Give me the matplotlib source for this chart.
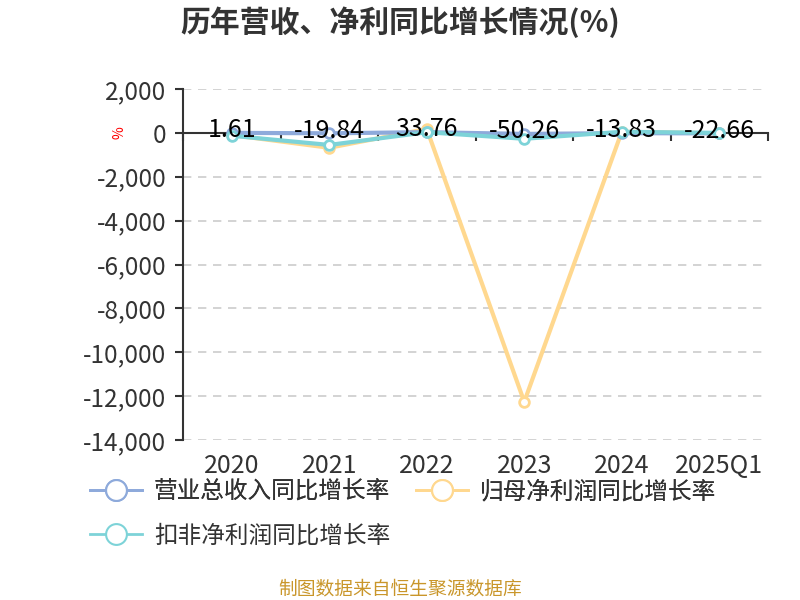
import matplotlib
matplotlib.use("Agg")
import matplotlib.pyplot as plt
from matplotlib.ticker import FuncFormatter, FixedLocator
from matplotlib.lines import Line2D

plt.rcParams['font.family'] = ['Noto Sans CJK SC', 'DejaVu Sans']

categories = ["2020", "2021", "2022", "2023", "2024", "2025Q1"]
revenue_growth = [1.61, -19.84, 33.76, -50.26, -13.83, -22.66]
net_profit_growth = [-100, -680, 180, -12260, 50, -20]
deducted_profit_growth = [-130, -550, 30, -270, 50, 0]
series_names = ["营业总收入同比增长率", "归母净利润同比增长率", "扣非净利润同比增长率"]
colors = ["#8EAADB", "#FFD88F", "#7DD3D8"]

fig = plt.figure(figsize=(8, 6), dpi=100)
ax = fig.add_axes([183/800, 1-440/600, (768-183)/800, (440-89)/600])

x = list(range(len(categories)))
for vals, c, z in [(revenue_growth, colors[0], 3), (net_profit_growth, colors[1], 2), (deducted_profit_growth, colors[2], 4)]:
    ax.plot(x, vals, color=c, lw=3, marker='o', ms=7, mfc='white', mec=c, mew=2, zorder=z)

for xi, v in zip(x, revenue_growth):
    ax.annotate(f"{v:.2f}", (xi, v), xytext=(0, 2), textcoords='offset points',
                ha='center', va='center', fontsize=18, color='black', zorder=6)

ax.set_xlim(-0.5, len(categories) - 0.5)
ax.set_ylim(-14000, 2000)
ax.set_yticks(range(-14000, 2001, 2000))
ax.yaxis.set_major_formatter(FuncFormatter(lambda v, p: f"{int(v):,}"))
ax.tick_params(axis='y', labelsize=17.5, colors='#333333', length=6, width=1.5, pad=6, labelcolor='#333333')
ax.grid(axis='y', linestyle=(0, (5, 4)), color='#cccccc', lw=1.2)
ax.set_axisbelow(True)

ax.spines['top'].set_visible(False)
ax.spines['right'].set_visible(False)
ax.spines['left'].set_color('#333333')
ax.spines['left'].set_linewidth(1.5)
ax.spines['bottom'].set_position(('data', 0))
ax.spines['bottom'].set_color('#333333')
ax.spines['bottom'].set_linewidth(1.5)

bounds = [i - 0.5 for i in range(len(categories) + 1)]
ax.xaxis.set_major_locator(FixedLocator(bounds))
ax.tick_params(axis='x', length=6, width=1.5, colors='#333333', labelbottom=False)
for xi, lab in zip(x, categories):
    ax.annotate(lab, (xi, 0), xycoords=('data', 'axes fraction'), xytext=(0, -19), textcoords='offset points',
                ha='center', va='center', fontsize=18, color='#333333')

fig.text(120/800, 1-133/600, "%", color='red', fontsize=10, rotation=90, ha='center', va='center')
fig.text(0.5, 1-22/600, "历年营收、净利同比增长情况(%)", ha='center', va='center', fontsize=21.5, fontweight='bold', color='#333333')

handles = [Line2D([0], [0], color=c, lw=2, marker='o', ms=15, mfc='white', mec=c, mew=1.5) for c in colors]
leg1 = fig.legend(handles[:2], series_names[:2], loc='center left', bbox_to_anchor=(90/800, 1-492/600), ncol=2,
                  frameon=False, fontsize=17, handlelength=2.2, columnspacing=1.1, handletextpad=0.5,
                  borderaxespad=0, borderpad=0, labelcolor='#333333')
leg2 = fig.legend(handles[2:], series_names[2:], loc='center left', bbox_to_anchor=(90/800, 1-536/600), ncol=1,
                  frameon=False, fontsize=17, handlelength=2.2, handletextpad=0.5,
                  borderaxespad=0, borderpad=0, labelcolor='#333333')
fig.add_artist(leg1)

fig.text(0.5, 1-589/600, "制图数据来自恒生聚源数据库", ha='center', va='center', fontsize=13.5, color='#C9962A')

fig.savefig("out.png", dpi=100)
